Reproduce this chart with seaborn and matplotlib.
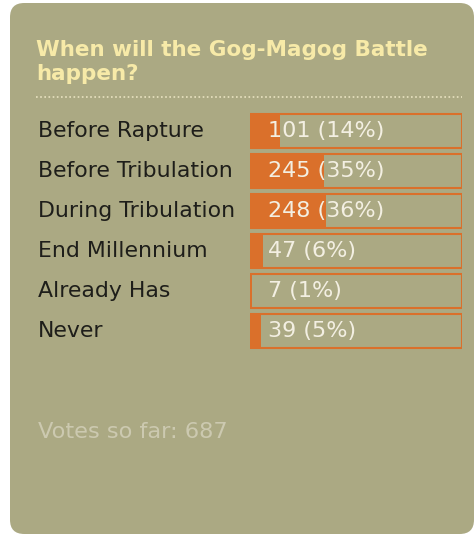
import matplotlib
matplotlib.use("Agg")
import matplotlib.pyplot as plt
import matplotlib.transforms as mtransforms
from matplotlib.patches import FancyBboxPatch
from matplotlib.lines import Line2D
import seaborn as sns
import pandas as pd

# ---------------- Poll data ----------------
title = "When will the Gog-Magog Battle\nhappen?"
choices = ["Before Rapture", "Before Tribulation", "During Tribulation",
           "End Millennium", "Already Has", "Never"]
votes = [101, 245, 248, 47, 7, 39]
percents = [14, 35, 36, 6, 1, 5]
total_votes = 687

panel_color = "#aba983"
bar_color = "#da702b"
title_color = "#f7eaa8"

df = pd.DataFrame({"choice": choices, "votes": votes, "pct": percents})
df["full"] = 100

W, H = 476, 537
fig = plt.figure(figsize=(W / 100, H / 100), dpi=100, facecolor="white")

# rounded background panel (behind the axes)
panel = FancyBboxPatch((10 / W, 3 / H), 464 / W, 531 / H,
                       boxstyle="round,pad=0,rounding_size=0.03",
                       transform=fig.transFigure, facecolor=panel_color,
                       edgecolor="none", mutation_aspect=W / H, zorder=-10)
fig.patches.append(panel)

# title + dotted separator
fig.text(36 / W, 1 - 40 / H, title, color=title_color, fontsize=15.5,
         fontweight="bold", va="top", ha="left", linespacing=1.22)
fig.add_artist(Line2D([36 / W, 462 / W], [1 - 97 / H, 1 - 97 / H],
                      transform=fig.transFigure, color="#e8e2c0",
                      linestyle=(0, (1, 1.5)), linewidth=1.2))

# bar axes
ax = fig.add_axes([250 / W, 1 - 351 / H, 212 / W, 240 / H])
ax.set_facecolor("none")
sns.barplot(data=df, x="full", y="choice", color=panel_color, edgecolor=bar_color,
            linewidth=1.5, width=0.86, saturation=1, ax=ax)
sns.barplot(data=df, x="pct", y="choice", color=bar_color, edgecolor="none",
            linewidth=0, width=0.86, saturation=1, ax=ax)
ax.set_xlim(0, 100)
ax.set_ylim(5.5, -0.5)
ax.axis("off")

trans = mtransforms.blended_transform_factory(fig.transFigure, ax.transData)
for i, row in df.iterrows():
    fig.text(38 / W, i, row["choice"], transform=trans, fontsize=15.8,
             color="#1e1e1a", va="center", ha="left")
    ax.text(8.5, i, f"{row['votes']} ({row['pct']}%)", fontsize=16,
            color="#f3efe2", va="center", ha="left")

fig.text(38 / W, 1 - 432 / H, f"Votes so far: {total_votes}", fontsize=16.2,
         color="#ccc9b0", va="center", ha="left")

fig.savefig("out.png", dpi=100, facecolor="white")
